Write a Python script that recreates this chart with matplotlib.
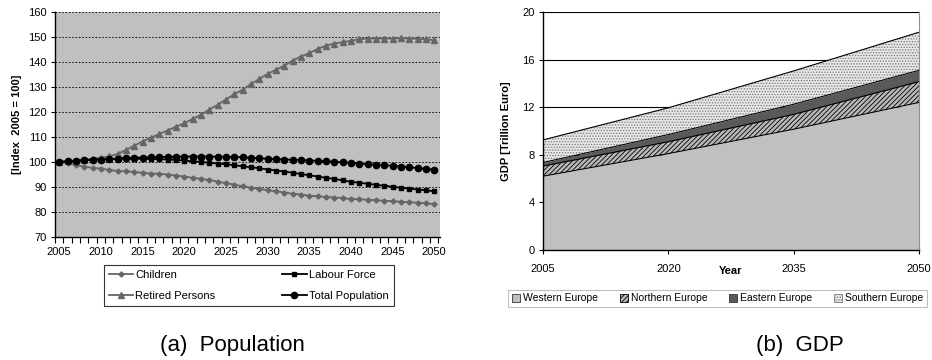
import numpy as np
import matplotlib
matplotlib.use("Agg")
from matplotlib import pyplot as plt
from matplotlib.patches import Patch

plt.rcParams["font.family"] = ["Liberation Sans", "DejaVu Sans"]
plt.rcParams["hatch.linewidth"] = 0.6

# ---- population data (index 2005 = 100) ----
years = np.arange(2005, 2051)
children = [100.0, 99.5, 98.7, 98.2, 97.6, 97.4, 96.8, 96.4, 96.3, 96.0,
            95.7, 95.4, 95.3, 95.0, 94.6, 94.2, 93.7, 93.3, 92.8, 92.2,
            91.5, 91.0, 90.3, 89.7, 89.3, 88.7, 88.3, 87.8, 87.3, 87.0,
            86.5, 86.3, 86.0, 85.8, 85.6, 85.2, 85.1, 84.9, 84.7, 84.5,
            84.3, 84.1, 83.9, 83.7, 83.5, 83.1]
labour = [100.0, 100.3, 100.5, 100.7, 100.9, 101.0, 101.1, 101.2, 101.3, 101.3,
          101.3, 101.2, 101.1, 101.0, 100.8, 100.6, 100.3, 100.0, 99.7, 99.4,
          99.1, 98.7, 98.3, 97.9, 97.5, 97.0, 96.6, 96.2, 95.7, 95.2,
          94.7, 94.2, 93.7, 93.2, 92.7, 92.1, 91.7, 91.3, 90.9, 90.5,
          90.1, 89.7, 89.4, 89.0, 88.7, 88.3]
retired = [100.0, 100.3, 100.6, 101.0, 101.3, 101.8, 102.3, 103.2, 104.8, 106.5,
           108.2, 109.7, 111.2, 112.6, 114.1, 115.5, 117.2, 118.8, 121.0, 122.8,
           125.0, 127.1, 128.9, 131.1, 133.2, 135.2, 136.9, 138.5, 140.5, 142.2,
           143.5, 145.2, 146.5, 147.4, 147.9, 148.5, 149.1, 149.4, 149.4, 149.4,
           149.4, 149.6, 149.4, 149.3, 149.1, 148.7]
total = [100.0, 100.3, 100.5, 100.7, 100.9, 101.0, 101.2, 101.4, 101.6, 101.7,
         101.8, 101.9, 102.0, 102.1, 102.1, 102.2, 102.2, 102.2, 102.2, 102.1,
         102.1, 102.0, 101.9, 101.7, 101.5, 101.3, 101.2, 101.0, 100.9, 100.8,
         100.6, 100.5, 100.3, 100.1, 99.9, 99.7, 99.4, 99.1, 98.9, 98.7,
         98.5, 98.2, 97.9, 97.6, 97.3, 96.9]

# ---- GDP data (trillion euro) ----
gdp_years = [2005, 2020, 2035, 2050]
gdp_labels = ["Western Europe", "Northern Europe", "Eastern Europe", "Southern Europe"]
western = [6.2, 8.1, 10.15, 12.4]
northern = [0.85, 1.0, 1.25, 1.75]
eastern = [0.3, 0.6, 0.85, 0.95]
southern = [1.9, 2.25, 2.8, 3.2]

fig = plt.figure(figsize=(9.32, 3.6), dpi=100)

# ---------------- (a) population ----------------
ax1 = fig.add_axes([55 / 932, 1 - 237 / 360, 385 / 932, 225 / 360])
ax1.set_facecolor("#c0c0c0")
h_ch, = ax1.plot(years, children, color="#666666", marker="D", ms=2.6, lw=1.3, label="Children")
h_lf, = ax1.plot(years, labour, color="black", marker="s", ms=3.2, lw=1.3, label="Labour Force")
h_rp, = ax1.plot(years, retired, color="#666666", marker="^", ms=4, lw=1.3, label="Retired Persons")
h_tp, = ax1.plot(years, total, color="black", marker="o", ms=4.5, lw=1.3, label="Total Population")
ax1.set_xlim(2004.5, 2050.7)
ax1.set_ylim(70, 160)
ax1.set_yticks(np.arange(70, 161, 10))
ax1.set_xticks(np.arange(2005, 2051, 5))
ax1.set_xticks(np.arange(2004.5, 2051, 1), minor=True)
ax1.tick_params(axis="x", which="major", length=0, pad=7, labelsize=8)
ax1.tick_params(axis="x", which="minor", length=4, width=0.8, direction="out")
ax1.tick_params(axis="y", length=3, width=0.8, pad=3, labelsize=8)
ax1.grid(axis="y", color="black", lw=0.6, ls=(0, (2, 2)))
ax1.set_axisbelow(True)
for s in ["top", "right"]:
    ax1.spines[s].set_visible(False)
ax1.spines["left"].set_linewidth(1)
ax1.spines["bottom"].set_linewidth(1)
ax1.set_ylabel("[Index  2005 = 100]", fontsize=8, fontweight="bold", labelpad=4)
# column-wise fill -> rows: Children/Labour Force, Retired Persons/Total Population
leg1 = ax1.legend(handles=[h_ch, h_rp, h_lf, h_tp], ncol=2, loc="upper center",
                  bbox_to_anchor=(0.503, -0.10),
                  fontsize=8, frameon=True, fancybox=False, edgecolor="black",
                  handlelength=2.2, columnspacing=6.0, handletextpad=0.2,
                  borderpad=0.45, labelspacing=1.0)
leg1.get_frame().set_linewidth(0.8)

# ---------------- (b) GDP ----------------
ax2 = fig.add_axes([543 / 932, 1 - 250 / 360, 376 / 932, 238 / 360])
layers = [western, northern, eastern, southern]
styles = [
    dict(facecolor="#c0c0c0", edgecolor="black", hatch=None),
    dict(facecolor="#b8b8b8", edgecolor="black", hatch="///////"),
    dict(facecolor="#5a5a5a", edgecolor="black", hatch=None),
    dict(facecolor="#e6e6e6", edgecolor="#777777", hatch="......"),
]
base = np.zeros(len(gdp_years))
for vals, st in zip(layers, styles):
    top = base + np.array(vals)
    ax2.fill_between(gdp_years, base, top, facecolor=st["facecolor"],
                     edgecolor=st["edgecolor"], hatch=st["hatch"], lw=0.0, zorder=2)
    ax2.plot(gdp_years, top, color="black", lw=0.8, zorder=3)
    base = top
ax2.set_xlim(2005, 2050)
ax2.set_ylim(0, 20)
ax2.set_yticks(np.arange(0, 21, 4))
ax2.set_xticks(gdp_years)
ax2.grid(axis="y", color="black", lw=0.8)
ax2.set_axisbelow(True)
ax2.tick_params(axis="x", direction="inout", length=6, width=0.8, pad=7, labelsize=8)
ax2.tick_params(axis="y", length=3, width=0.8, pad=3, labelsize=8)
ax2.spines["top"].set_visible(False)
ax2.spines["right"].set_color("#909090")
ax2.spines["left"].set_linewidth(1)
ax2.spines["bottom"].set_linewidth(1)
ax2.set_ylabel("GDP [Trillion Euro]", fontsize=8, fontweight="bold", labelpad=8)
ax2.text(0.5, -0.088, "Year", transform=ax2.transAxes, ha="center", va="center",
         fontsize=8, fontweight="bold")
leg_handles = [Patch(facecolor=st["facecolor"], edgecolor="#333333" if st["hatch"] is None else st["edgecolor"],
                     hatch=st["hatch"], lw=0.6, label=lab)
               for st, lab in zip(styles, gdp_labels)]
leg2 = ax2.legend(handles=leg_handles, ncol=4, loc="upper center", bbox_to_anchor=(0.464, -0.145),
                  fontsize=7.5, frameon=True, fancybox=False, edgecolor="#b0b0b0",
                  handlelength=0.8, handleheight=0.8, handletextpad=0.25,
                  columnspacing=2.1, borderpad=0.35)
leg2.get_frame().set_linewidth(0.8)

fig.text(232 / 932, 1 - 345 / 360, "(a)  Population", ha="center", va="center", fontsize=16)
fig.text(800 / 932, 1 - 345 / 360, "(b)  GDP", ha="center", va="center", fontsize=16)

fig.savefig("out.png", dpi=100)
